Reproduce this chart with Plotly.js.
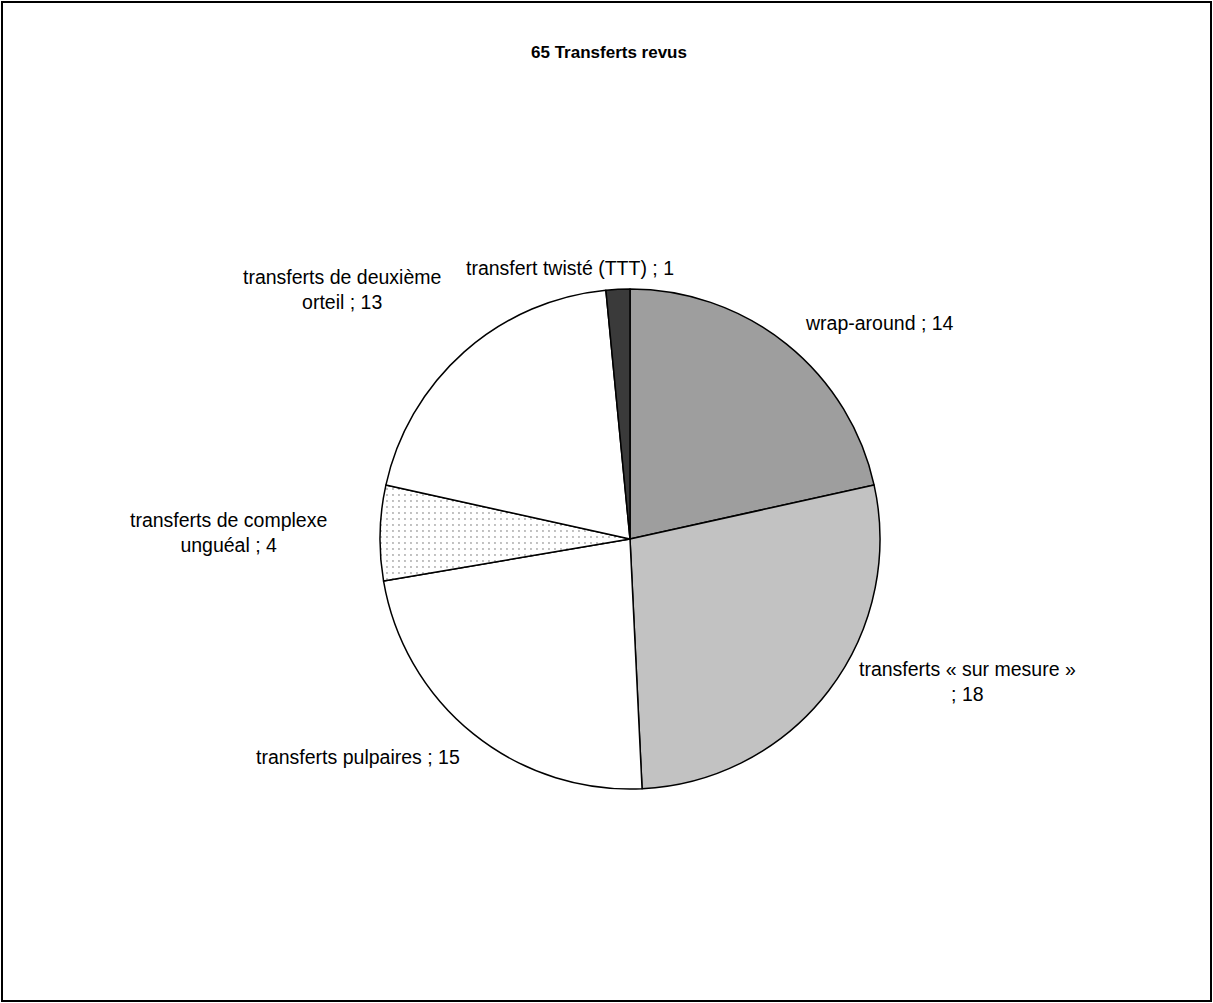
<!DOCTYPE html>
<html>
<head>
<meta charset="utf-8">
<script src="https://cdn.plot.ly/plotly-3.0.1.min.js"></script>
<style>html,body{margin:0;padding:0;background:#fff;}#chart{width:1213px;height:1003px;}</style>
</head>
<body>
<div id="chart"></div>
<script>
// Data
const categories = [
  "wrap-around",
  "transferts « sur mesure »",
  "transferts pulpaires",
  "transferts de complexe unguéal",
  "transferts de deuxième orteil",
  "transfert twisté (TTT)"
];
const labelTexts = [
  "wrap-around ; 14",
  "transferts « sur mesure »<br>; 18",
  "transferts pulpaires ; 15",
  "transferts de complexe<br>unguéal ; 4",
  "transferts de deuxième<br>orteil ; 13",
  "transfert twisté (TTT) ; 1"
];
const values = [14, 18, 15, 4, 13, 1];
const sliceColors = ["#9e9e9e", "#c2c2c2", "#ffffff", "#f7f7f7", "#ffffff", "#3a3a3a"];
const slicePatterns = ["", "", "", ".", "", ""];
const titleText = "65 Transferts revus";

const W = 1213, H = 1003;
const px = x => x / W;
const py = y => 1 - y / H;

// label anchor positions in pixels (layout only)
const labelPos = [
  [879, 323], [967, 681], [358, 757], [229, 532], [342, 289], [570, 268]
];

const cx = 630, cy = 539, r = 250;

const trace = {
  type: "pie",
  values: values,
  labels: categories,
  sort: false,
  direction: "clockwise",
  rotation: 0,
  textinfo: "none",
  hoverinfo: "label+value",
  showlegend: false,
  marker: {
    colors: sliceColors,
    line: { color: "#000", width: 1.5 },
    pattern: { shape: slicePatterns, fgcolor: "#aaaaaa", bgcolor: "#ffffff", size: 6, solidity: 0.08 }
  },
  domain: { x: [px(cx - r), px(cx + r)], y: [py(cy + r), py(cy - r)] }
};

const annotations = labelTexts.map((t, i) => ({
  text: t,
  x: px(labelPos[i][0]),
  y: py(labelPos[i][1]),
  xref: "paper", yref: "paper",
  xanchor: "center", yanchor: "middle",
  align: "center",
  showarrow: false,
  font: { family: "Liberation Sans, Arial, sans-serif", size: 19.5, color: "#000" }
}));

const layout = {
  width: W, height: H,
  margin: { l: 0, r: 0, t: 0, b: 0 },
  paper_bgcolor: "#fff",
  title: {
    text: "<b>" + titleText + "</b>",
    x: px(609), xanchor: "center",
    y: py(52), yanchor: "middle",
    font: { family: "Liberation Sans, Arial, sans-serif", size: 17, color: "#000" }
  },
  annotations: annotations,
  shapes: [{
    type: "rect", xref: "paper", yref: "paper",
    x0: px(2), x1: px(1211), y0: py(1001), y1: py(2),
    line: { color: "#000", width: 2 }
  }]
};

Plotly.newPlot("chart", [trace], layout, { staticPlot: true });
</script>
</body>
</html>
